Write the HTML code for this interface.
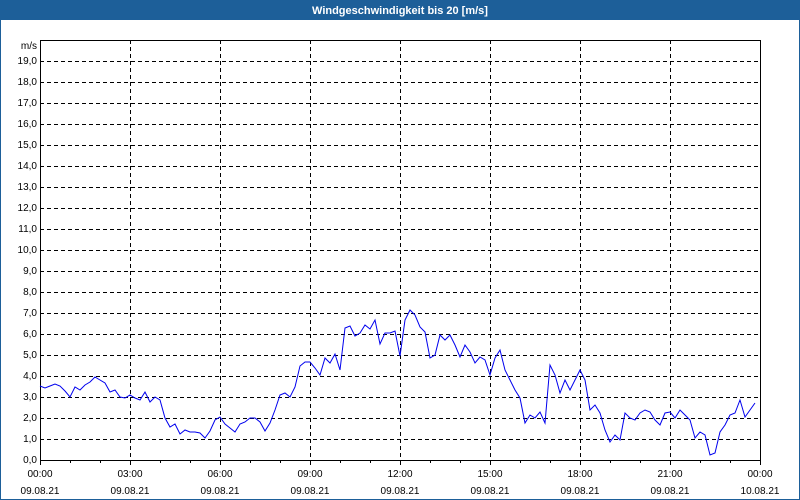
<!DOCTYPE html>
<html><head><meta charset="utf-8"><style>
html,body{margin:0;padding:0;background:#fff;}
svg{display:block;font-family:"Liberation Sans",sans-serif;}
</style></head><body>
<svg width="800" height="500" viewBox="0 0 800 500" xmlns="http://www.w3.org/2000/svg">
<rect x="0" y="0" width="800" height="500" fill="#fff"/>
<rect x="0.5" y="0.5" width="799" height="499" fill="none" stroke="#1d5f99" stroke-width="1"/>
<rect x="0" y="0" width="800" height="20" fill="#1d5f99"/>
<text x="400" y="14" text-anchor="middle" font-size="11" font-weight="bold" fill="#fff">Windgeschwindigkeit bis 20 [m/s]</text>
<g stroke="#000" stroke-width="1" stroke-dasharray="4,3" fill="none">
<path d="M40 439.5H760M40 418.5H760M40 397.5H760M40 376.5H760M40 355.5H760M40 334.5H760M40 313.5H760M40 292.5H760M40 271.5H760M40 250.5H760M40 229.5H760M40 208.5H760M40 187.5H760M40 166.5H760M40 145.5H760M40 124.5H760M40 103.5H760M40 82.5H760M40 61.5H760"/>
<path d="M130.5 40V460M220.5 40V460M310.5 40V460M400.5 40V460M490.5 40V460M580.5 40V460M670.5 40V460"/>
</g>
<rect x="40.5" y="40.5" width="720" height="420" fill="none" stroke="#000" stroke-width="1"/>
<g stroke="#000" stroke-width="1">
<path d="M40.5 460v5M70.5 460v3M100.5 460v3M130.5 460v5M160.5 460v3M190.5 460v3M220.5 460v5M250.5 460v3M280.5 460v3M310.5 460v5M340.5 460v3M370.5 460v3M400.5 460v5M430.5 460v3M460.5 460v3M490.5 460v5M520.5 460v3M550.5 460v3M580.5 460v5M610.5 460v3M640.5 460v3M670.5 460v5M700.5 460v3M730.5 460v3M760.5 460v5"/>
</g>
<g font-size="10" fill="#000" text-anchor="end">
<text x="37" y="49">m/s</text>
<text x="37" y="64">19,0</text><text x="37" y="85">18,0</text><text x="37" y="106">17,0</text><text x="37" y="127">16,0</text><text x="37" y="148">15,0</text><text x="37" y="169">14,0</text><text x="37" y="190">13,0</text><text x="37" y="211">12,0</text><text x="37" y="232">11,0</text><text x="37" y="253">10,0</text><text x="37" y="274">9,0</text><text x="37" y="295">8,0</text><text x="37" y="316">7,0</text><text x="37" y="337">6,0</text><text x="37" y="358">5,0</text><text x="37" y="379">4,0</text><text x="37" y="400">3,0</text><text x="37" y="421">2,0</text><text x="37" y="442">1,0</text><text x="37" y="463">0,0</text>
</g>
<g font-size="10" fill="#000" text-anchor="middle">
<text x="40" y="477">00:00</text><text x="130" y="477">03:00</text><text x="220" y="477">06:00</text><text x="310" y="477">09:00</text><text x="400" y="477">12:00</text><text x="490" y="477">15:00</text><text x="580" y="477">18:00</text><text x="670" y="477">21:00</text><text x="760" y="477">00:00</text>
<text x="40" y="494">09.08.21</text><text x="130" y="494">09.08.21</text><text x="220" y="494">09.08.21</text><text x="310" y="494">09.08.21</text><text x="400" y="494">09.08.21</text><text x="490" y="494">09.08.21</text><text x="580" y="494">09.08.21</text><text x="670" y="494">09.08.21</text><text x="760" y="494">10.08.21</text>
</g>
<polyline fill="none" stroke="#0000ee" stroke-width="1" points="40,386 45,388 50,386 55,384 60,386 65,391 70,397 75,387 80,390 85,385 90,382 95,377 100,380 105,383 110,392 115,390 120,397 125,398 130,395 135,398 140,400 145,392 150,402 155,397 160,400 165,418 170,427 175,424 180,434 185,430 190,432 195,432 200,433 205,438 210,431 215,420 220,417 225,424 230,428 235,432 240,424 245,422 250,418 255,418 260,422 265,431 270,423 275,410 280,395 285,393 290,397 295,387 300,366 305,362 310,362 315,368 320,375 325,358 330,363 335,354 340,370 345,328 350,326 355,336 360,333 365,325 370,329 375,320 380,344 385,333 390,333 395,331 400,356 405,320 410,310 415,315 420,327 425,332 430,358 435,355 440,335 445,340 450,335 455,345 460,357 465,345 470,352 475,363 480,357 485,360 490,375 495,358 500,350 505,370 510,380 515,390 520,398 525,423 530,415 535,418 540,412 545,423 550,365 555,375 560,393 565,380 570,390 575,380 580,370 585,380 590,410 595,405 600,413 605,430 610,442 615,435 620,440 625,413 630,418 635,420 640,413 645,410 650,412 655,420 660,425 665,413 670,412 675,418 680,410 685,415 690,420 695,438 700,432 705,435 710,455 715,453 720,432 725,425 730,415 735,413 740,400 745,417 750,410 755,403"/>
</svg>
</body></html>
